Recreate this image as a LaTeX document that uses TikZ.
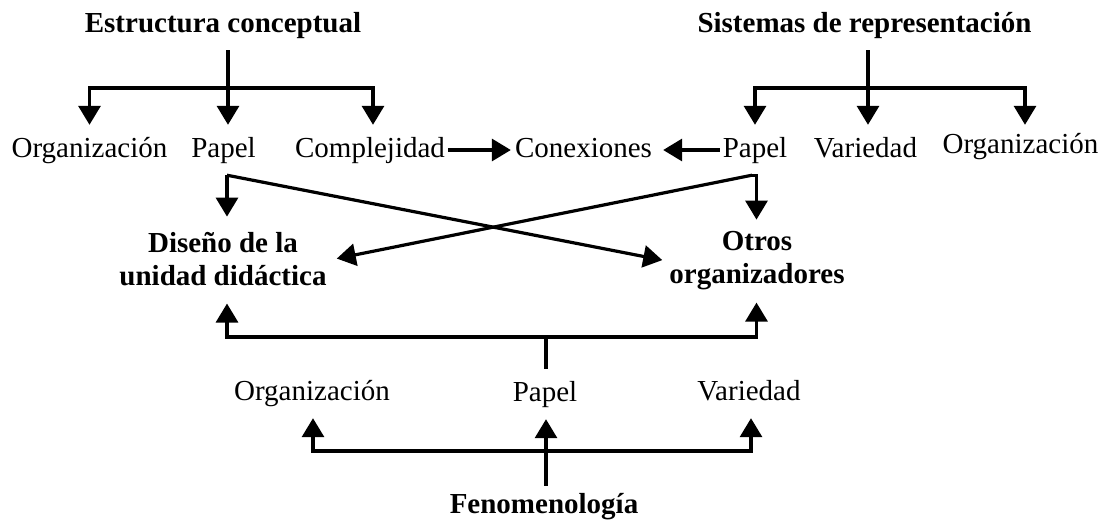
\documentclass[tikz,border=0pt]{standalone}
\usepackage{fontspec}
\setmainfont{Liberation Serif}
\usetikzlibrary{arrows.meta}
\begin{document}
\begin{tikzpicture}[x=1pt,y=-1pt,
  lbl/.style={font=\fontsize{29}{33}\selectfont, inner xsep=0pt, inner ysep=11pt,
              text height=21pt, text depth=7pt, anchor=base},
  ttl/.style={lbl, font=\fontsize{29}{33}\selectfont\bfseries},
  two/.style={font=\fontsize{29}{33}\selectfont\bfseries, align=center,
              inner sep=0pt, anchor=base},
  ln/.style={line width=3.2pt},
  arr/.style={ln, -{Triangle[length=19pt,width=22pt]}}]
\useasboundingbox (0,0) rectangle (1109,523);

% titles
\node[ttl] (ec)  at (223,32)   {Estructura conceptual};
\node[ttl] (sr)  at (864.5,32) {Sistemas de representación};
% second row
\node[lbl] (o1)  at (89.5,157)   {Organización};
\node[lbl] (p1)  at (223.5,157)  {Papel};
\node[lbl] (c1)  at (370,157)    {Complejidad};
\node[lbl] (cx)  at (583.5,157)  {Conexiones};
\node[lbl] (p2)  at (755,157)    {Papel};
\node[lbl] (v2)  at (865.5,157)  {Variedad};
\node[lbl] (o2)  at (1020.5,153) {Organización};
% targets
\node[two] (dis) at (223,285) {Diseño de la\\unidad didáctica};
\node[two] (otr) at (757,283) {Otros\\organizadores};
% third row
\node[lbl] (o3)  at (312,400) {Organización};
\node[lbl] (p3)  at (545,401) {Papel};
\node[lbl] (v3)  at (749,400) {Variedad};
\node[ttl] (fen) at (544,513) {Fenomenología};

% junctions
\coordinate (ecj) at (228,88);
\coordinate (srj) at (868,88);
\coordinate (lj)  at ([xshift=3.5pt]p1.south);
\coordinate (rj)  at ([xshift=-3pt]p2.south);
\coordinate (rj2) at ([xshift=1.5pt]p2.south);
\coordinate (dtop) at ([yshift=15pt]dis.north);
\coordinate (otop) at ([yshift=11pt]otr.north);
\coordinate (dbot) at ([yshift=-18pt]dis.south);
\coordinate (obot) at ([yshift=-13pt]otr.south);
\coordinate (tj)  at (546,337);
\coordinate (bj)  at (546,451);
\coordinate (fj)  at ([yshift=-5pt]fen.north);

% Estructura conceptual tree
\draw[ln]  (ec.south -| ecj) -- (ecj);
\draw[arr] (ecj) -| (o1.north);
\draw[arr] (ecj) -- (ecj |- p1.north);
\draw[arr] (ecj) -| ([xshift=3pt]c1.north);

% Sistemas de representacion tree
\draw[ln]  (sr.south -| srj) -- (srj);
\draw[arr] (srj) -| (p2.north);
\draw[arr] (srj) -- (srj |- v2.north);
\draw[arr] (srj) -| ([xshift=4.5pt,yshift=-4pt]o2.north);

% to Conexiones
\draw[arr] ([xshift=3pt]c1.east) -- ([xshift=-4pt]cx.west);
\draw[arr] ([xshift=-3pt]p2.west) -- ([xshift=11pt]cx.east);

% from the two Papel
\draw[arr] (lj) -- (lj |- dtop);
\draw[arr] (lj) -- ([xshift=-7pt]otr.west);
\draw[arr] (rj) -- ([xshift=10pt]dis.east);
\draw[arr] (rj) -- (rj2) -- (rj2 |- otop);

% upward tree into the targets
\draw[ln]  (p3.north -| tj) -- (tj);
\draw[arr] (tj) -| (lj |- dbot);
\draw[arr] (tj) -| (rj2 |- obot);

% Fenomenologia tree
\draw[arr] (fj -| bj) -- (bj |- p3.south);
\draw[arr] (bj) -| ([xshift=1pt]o3.south);
\draw[arr] (bj) -| ([xshift=2pt]v3.south);
\end{tikzpicture}
\end{document}
